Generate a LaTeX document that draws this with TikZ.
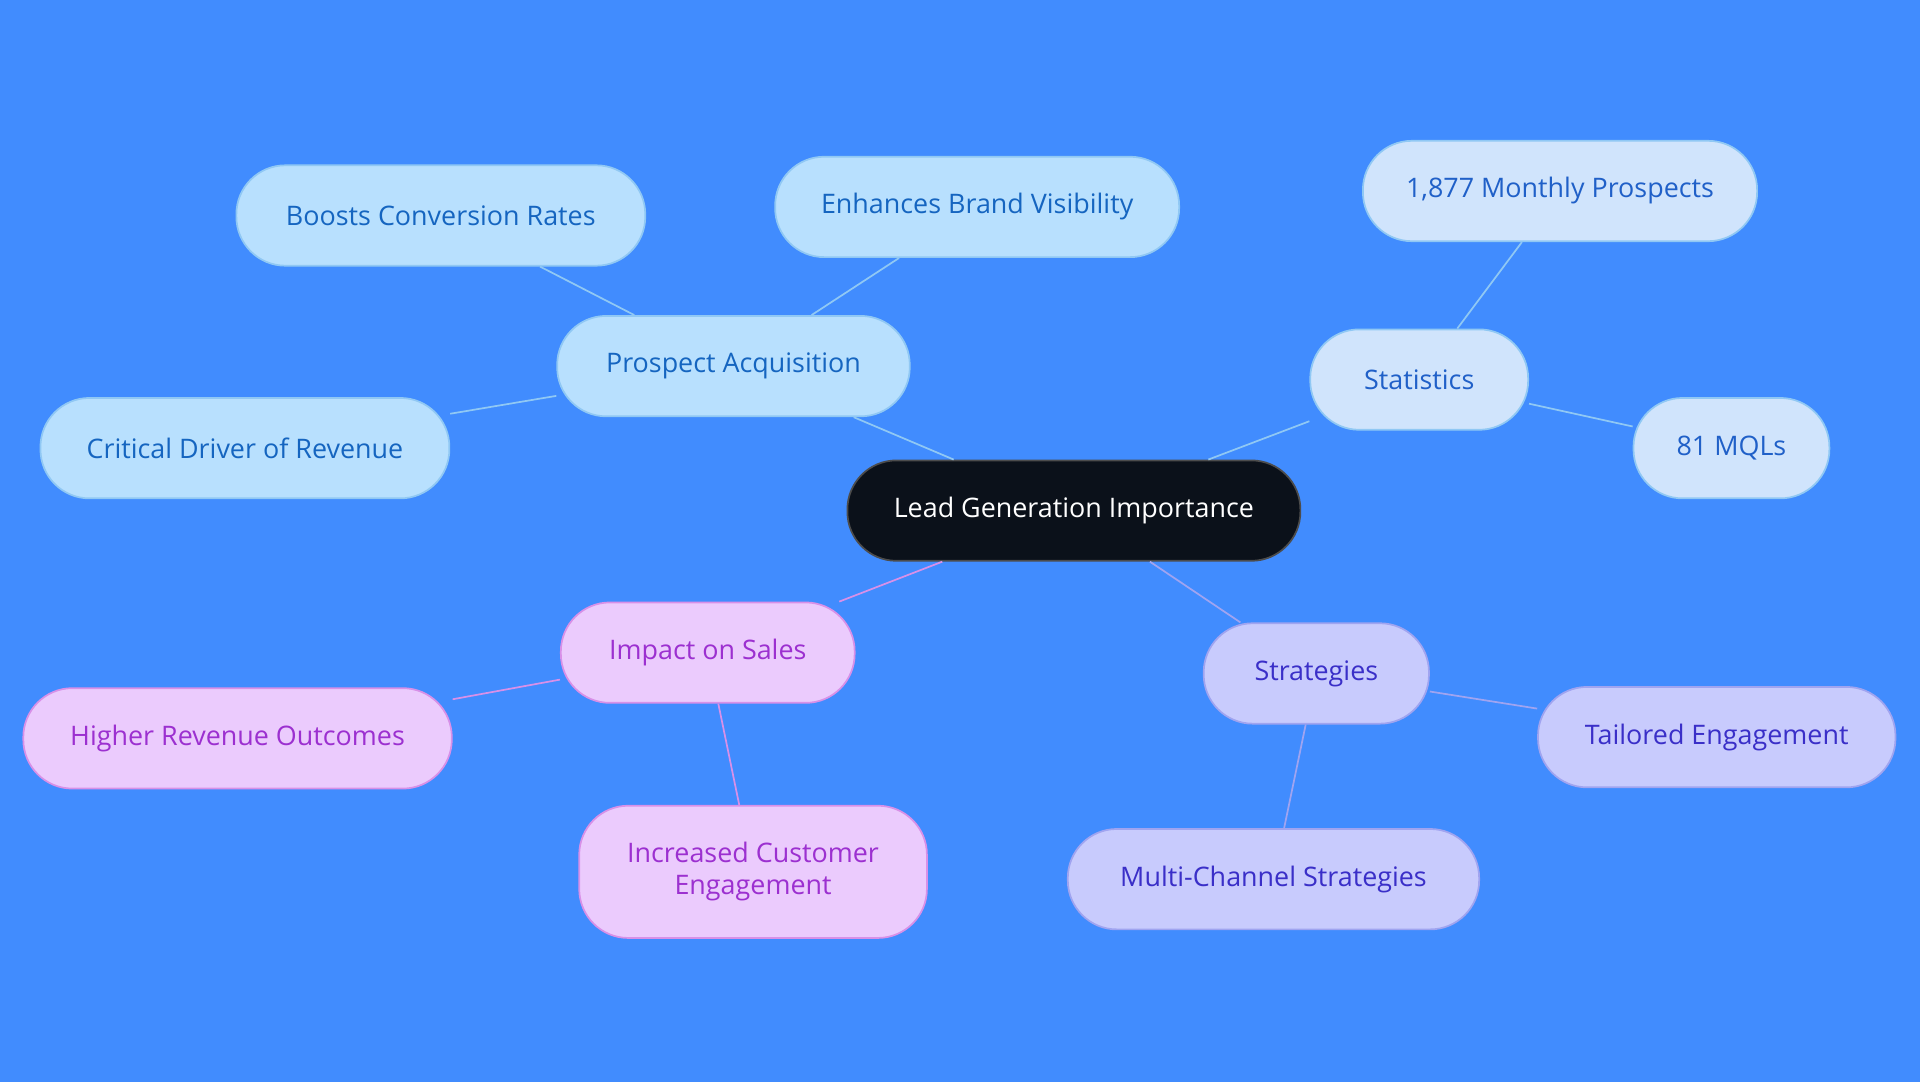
\documentclass[tikz,border=0pt]{standalone}
\usepackage{fontspec}
\setmainfont{Open Sans}
\usetikzlibrary{positioning}
\definecolor{bg}{HTML}{418CFE}
\definecolor{rootfill}{HTML}{0B111A}
\definecolor{bluefill}{HTML}{B8E0FE}
\definecolor{blueline}{HTML}{90C8F4}
\definecolor{bluetext}{HTML}{1565C0}
\definecolor{statfill}{HTML}{D0E4FC}
\definecolor{stattext}{HTML}{2060C8}
\definecolor{pinkfill}{HTML}{EBCBFD}
\definecolor{pinkline}{HTML}{D890E8}
\definecolor{pinktext}{HTML}{9C30D0}
\definecolor{purpfill}{HTML}{C8CBFD}
\definecolor{purpline}{HTML}{A0A4F0}
\definecolor{purptext}{HTML}{3A2FC8}
\begin{document}
\begin{tikzpicture}
[x=0.02cm,y=-0.02cm,
 every node/.style={rounded corners=0.8cm,minimum height=1.64cm,inner sep=0mm,align=center,font=\fontsize{12.5}{15}\selectfont},
 root/.style={fill=rootfill,draw=gray!60!black,text=white},
 blue/.style={fill=bluefill,draw=blueline,text=bluetext},
 stat/.style={fill=statfill,draw=blueline,text=stattext},
 pink/.style={fill=pinkfill,draw=pinkline,text=pinktext},
 purp/.style={fill=purpfill,draw=purpline,text=purptext},
 thick]
\fill[bg] (0,0) rectangle (1568,884);
\useasboundingbox (0,0) rectangle (1568,884);
\node[root,minimum width=7.4cm] (lead) at (877,417)  {Lead Generation Importance};
\node[blue,minimum width=5.76cm] (pa)  at (599,299)  {Prospect Acquisition};
\node[blue,minimum width=6.68cm] (bcr) at (360,176)  {Boosts Conversion Rates};
\node[blue,minimum width=6.6cm]  (ebv) at (798,169)  {Enhances Brand Visibility};
\node[blue,minimum width=6.68cm] (cdr) at (200,366)  {Critical Driver of Revenue};
\node[stat,minimum width=3.56cm] (st)  at (1159,310) {Statistics};
\node[stat,minimum width=6.44cm] (mp)  at (1274,156) {1,877 Monthly Prospects};
\node[stat,minimum width=3.2cm]  (mql) at (1414,366) {81 MQLs};
\node[pink,minimum width=4.8cm]  (is)  at (578,533)  {Impact on Sales};
\node[pink,minimum width=7cm]    (hro) at (194,603)  {Higher Revenue Outcomes};
\node[pink,minimum width=5.68cm,minimum height=2.16cm] (ice) at (615,712) {Increased Customer\\Engagement};
\node[purp,minimum width=3.68cm] (sg)  at (1075,550) {Strategies};
\node[purp,minimum width=5.84cm] (te)  at (1402,602) {Tailored Engagement};
\node[purp,minimum width=6.72cm] (mcs) at (1040,718) {Multi-Channel Strategies};
\draw[blueline] (lead) -- (pa);
\draw[blueline] (pa) -- (bcr);
\draw[blueline] (pa) -- (ebv);
\draw[blueline] (pa) -- (cdr);
\draw[blueline] (lead) -- (st);
\draw[blueline] (st) -- (mp);
\draw[blueline] (st) -- (mql);
\draw[pinkline] (lead) -- (is);
\draw[pinkline] (is) -- (hro);
\draw[pinkline] (is) -- (ice);
\draw[purpline] (lead) -- (sg);
\draw[purpline] (sg) -- (te);
\draw[purpline] (sg) -- (mcs);
\end{tikzpicture}
\end{document}
